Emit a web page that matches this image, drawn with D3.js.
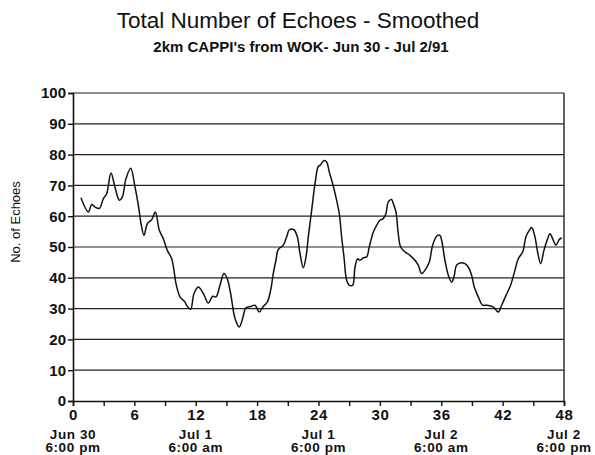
<!DOCTYPE html>
<html>
<head>
<meta charset="utf-8">
<script src="https://cdn.jsdelivr.net/npm/d3@7"></script>
<style>
  body { margin: 0; background: #fff; }
  text { font-family: "Liberation Sans", Arial, sans-serif; fill: #111; }
</style>
</head>
<body>
<script>
// hours since Jun 30 6:00 pm
const hours = [0.78, 1.5, 1.83, 2.15, 2.57, 2.97, 3.29, 3.71, 4.1, 4.53, 4.82, 5.18, 5.64, 6.06, 6.39, 6.65, 6.94, 7.27, 7.7, 8.05,
  8.44, 8.83, 9.22, 9.65, 9.87, 10.07, 10.46, 10.95, 11.1, 11.5, 11.83, 12.25, 12.74, 13.23, 13.65, 13.98, 14.37, 14.76, 15.08, 15.41,
  15.84, 16.26, 16.58, 16.91, 17.37, 17.79, 18.21, 18.6, 18.99, 19.32, 19.58, 19.84, 20.07, 20.56, 20.89, 21.15, 21.6, 21.93, 22.19, 22.51,
  22.78, 23.0, 23.33, 23.66, 23.98, 24.14, 24.54, 24.8, 25.05, 25.38, 25.7, 26.03, 26.26, 26.49, 26.75, 27.0, 27.34, 27.57, 27.83, 28.06,
  28.38, 28.71, 28.96, 29.36, 29.68, 30.0, 30.33, 30.59, 30.82, 31.15, 31.31, 31.57, 31.8, 32.03, 32.45, 32.94, 33.43, 33.75, 34.09, 34.51,
  34.83, 35.16, 35.55, 35.87, 36.04, 36.36, 36.69, 37.02, 37.24, 37.5, 37.83, 38.32, 38.64, 38.97, 39.23, 39.62, 40.05, 40.5, 41.09, 41.58,
  41.9, 42.33, 42.78, 43.2, 43.53, 43.96, 44.28, 44.6, 44.84, 45.16, 45.39, 45.72, 46.04, 46.37, 46.63, 46.95, 47.21, 47.54, 47.77];
const echoes = [66.0, 61.4, 63.8, 63.0, 62.5, 65.7, 67.3, 74.0, 69.5, 65.2, 66.2, 72.2, 75.6, 69.5, 63.5, 57.6, 53.8, 57.6, 58.9, 61.4,
  55.4, 52.7, 48.9, 46.2, 42.4, 38.1, 33.8, 32.1, 31.1, 29.8, 34.9, 37.0, 34.9, 31.8, 34.0, 33.8, 37.6, 41.4, 39.7, 34.9,
  26.8, 24.0, 26.8, 30.3, 30.7, 31.1, 28.9, 30.7, 32.1, 35.9, 41.4, 45.7, 49.2, 50.6, 53.3, 55.6, 55.6, 53.3, 47.9, 43.3,
  46.8, 53.2, 61.9, 70.6, 76.2, 76.5, 78.1, 77.6, 74.4, 70.6, 66.2, 60.8, 53.3, 46.8, 39.2, 37.6, 37.6, 43.5, 46.2, 45.7,
  46.5, 46.8, 50.0, 54.9, 57.0, 58.7, 59.2, 60.8, 64.6, 65.4, 64.1, 61.4, 54.3, 50.0, 48.4, 47.3, 45.7, 44.1, 41.4, 43.0,
  45.1, 50.6, 53.5, 53.8, 52.2, 45.7, 40.8, 38.6, 40.3, 44.1, 44.8, 44.6, 43.5, 40.8, 37.0, 33.8, 31.1, 31.1, 30.5, 28.9,
  31.1, 34.3, 37.6, 42.4, 46.2, 48.4, 53.3, 55.4, 56.3, 53.3, 48.9, 44.6, 48.9, 52.4, 54.3, 52.2, 50.6, 52.4, 53.0];

const xTicks = [0, 6, 12, 18, 24, 30, 36, 42, 48];
const yTicks = [0, 10, 20, 30, 40, 50, 60, 70, 80, 90, 100];
const dateLabels = [[0, "Jun 30", "6:00 pm"], [12, "Jul 1", "6:00 am"], [24, "Jul 1", "6:00 pm"], [36, "Jul 2", "6:00 am"], [48, "Jul 2", "6:00 pm"]];

const width = 595, height = 455;
const margin = {top: 93, right: 31, bottom: 54, left: 73};

const svg = d3.select("body").append("svg")
    .attr("width", width)
    .attr("height", height);

const x = d3.scaleLinear().domain([0, 48]).range([margin.left, width - margin.right]);
const y = d3.scaleLinear().domain([0, 100]).range([height - margin.bottom, margin.top]);

// titles
svg.append("text")
    .attr("x", 298).attr("y", 28)
    .attr("text-anchor", "middle")
    .style("font-size", "22.5px")
    .text("Total Number of Echoes - Smoothed");

svg.append("text")
    .attr("x", 301).attr("y", 52)
    .attr("text-anchor", "middle")
    .style("font-size", "15px").style("font-weight", "bold")
    .text("2km CAPPI's from WOK- Jun 30 - Jul 2/91");

// gridlines
svg.append("g").selectAll("line")
  .data(yTicks.filter(d => d > 0))
  .enter().append("line")
    .attr("x1", x(0)).attr("x2", x(48))
    .attr("y1", d => y(d)).attr("y2", d => y(d))
    .attr("stroke", "#222").attr("stroke-width", 1.2);

// right border
svg.append("line")
    .attr("x1", x(48)).attr("x2", x(48))
    .attr("y1", y(0)).attr("y2", y(100))
    .attr("stroke", "#222").attr("stroke-width", 1.4);

// axes
const yAxis = svg.append("g")
    .attr("transform", `translate(${x(0)},0)`)
    .call(d3.axisLeft(y).tickValues(yTicks).tickSize(5).tickPadding(2));

const xAxis = svg.append("g")
    .attr("transform", `translate(0,${y(0)})`)
    .call(d3.axisBottom(x).tickValues(d3.range(0, 49, 3)).tickSize(5).tickPadding(3)
      .tickFormat(d => xTicks.includes(d) ? d : ""));

[yAxis, xAxis].forEach(g => {
  g.select(".domain").attr("stroke", "#111").attr("stroke-width", 1.6);
  g.selectAll(".tick line").attr("stroke", "#111").attr("stroke-width", 1.4);
  g.selectAll(".tick text")
    .style("font-family", "'Liberation Sans', Arial, sans-serif")
    .style("font-size", "15px").style("font-weight", "bold").attr("fill", "#111");
});
xAxis.selectAll(".tick text").style("letter-spacing", "0.6px");

// date labels below x axis
const dl = svg.append("g").selectAll("text")
  .data(dateLabels)
  .enter().append("text")
    .attr("text-anchor", "middle")
    .style("font-size", "13.5px").style("font-weight", "bold")
    .style("letter-spacing", "0.6px");
dl.append("tspan").attr("x", d => x(d[0])).attr("y", 438.5).text(d => d[1]);
dl.append("tspan").attr("x", d => x(d[0])).attr("y", 452).text(d => d[2]);

// y axis title
svg.append("text")
    .attr("transform", `translate(20,222) rotate(-90)`)
    .attr("text-anchor", "middle")
    .style("font-size", "13px")
    .text("No. of Echoes");

// trace
const line = d3.line()
    .x((d, i) => x(hours[i]))
    .y(d => y(d))
    .curve(d3.curveCatmullRom.alpha(0.5));

svg.append("path")
    .datum(echoes)
    .attr("d", line)
    .attr("fill", "none")
    .attr("stroke", "#111")
    .attr("stroke-width", 1.5);
</script>
</body>
</html>
